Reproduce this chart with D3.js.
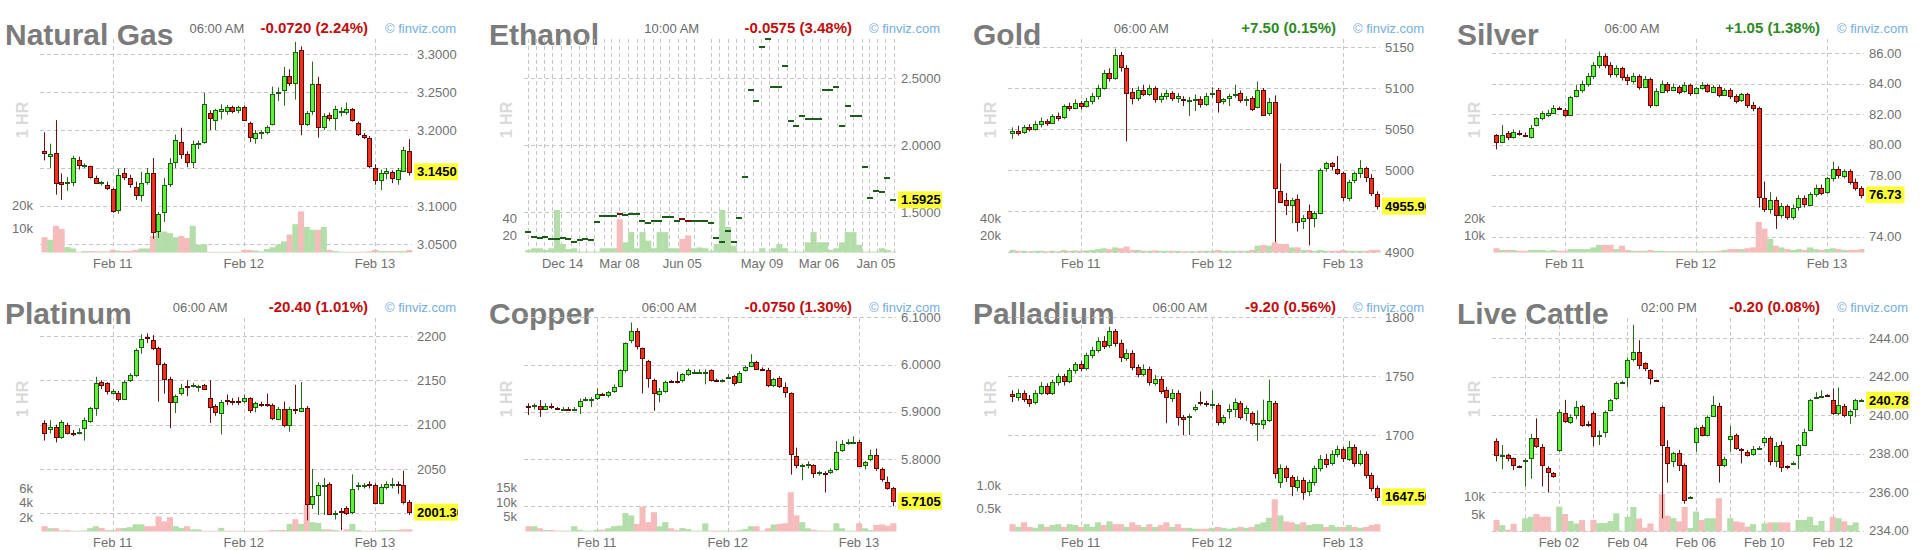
<!DOCTYPE html>
<html>
<head>
<meta charset="utf-8">
<script src="https://cdn.jsdelivr.net/npm/d3@7"></script>
<style>
  body { margin: 0; background: #fff; }
  svg text { font-family: "Liberation Sans", Arial, Helvetica, sans-serif; }
</style>
</head>
<body>
<svg id="chart" width="1920" height="550"></svg>
<script>
// bars are [open, high, low, close, volume]
var natGasBars = [
  [3.172,3.197,3.160,3.170,6.5],[3.167,3.182,3.150,3.169,5.4],[3.170,3.213,3.115,3.130,11.3],[3.131,3.143,3.108,3.129,10],
  [3.130,3.138,3.120,3.131,2.3],[3.131,3.166,3.126,3.163,1.7],[3.160,3.165,3.148,3.154,0.3],[3.153,3.156,3.150,3.154,0.6],
  [3.152,3.153,3.136,3.138,0.6],[3.137,3.140,3.129,3.131,0.5],[3.130,3.133,3.127,3.131,0.5],[3.128,3.132,3.121,3.124,0.5],
  [3.122,3.124,3.091,3.093,1.1],[3.095,3.149,3.090,3.141,0.8],[3.143,3.150,3.134,3.138,0.7],[3.137,3.141,3.124,3.129,0.7],
  [3.125,3.132,3.108,3.114,1.1],[3.114,3.145,3.106,3.130,1.7],[3.131,3.150,3.128,3.143,1.7],[3.143,3.163,3.057,3.066,7],
  [3.066,3.092,3.058,3.089,8.9],[3.092,3.137,3.079,3.128,8.9],[3.130,3.163,3.125,3.157,8.2],[3.158,3.194,3.150,3.187,6.5],
  [3.184,3.203,3.162,3.168,7],[3.168,3.172,3.151,3.158,6.1],[3.158,3.186,3.150,3.182,11.3],[3.182,3.186,3.175,3.183,3.3],
  [3.184,3.249,3.182,3.234,3.5],[3.222,3.226,3.200,3.216,0.3],[3.213,3.228,3.200,3.226,0.3],[3.225,3.234,3.214,3.227,0.3],
  [3.225,3.233,3.220,3.230,0.3],[3.230,3.232,3.222,3.225,0.3],[3.226,3.232,3.222,3.230,0.3],[3.230,3.232,3.212,3.213,1.1],
  [3.209,3.211,3.184,3.190,1.1],[3.190,3.200,3.182,3.196,0.8],[3.196,3.200,3.188,3.197,0.5],[3.198,3.206,3.194,3.204,1.5],
  [3.208,3.257,3.206,3.247,2.2],[3.249,3.256,3.238,3.250,3.3],[3.253,3.283,3.232,3.271,4.7],[3.271,3.280,3.258,3.262,7.6],
  [3.262,3.316,3.240,3.303,12],[3.305,3.310,3.193,3.208,17.4],[3.208,3.225,3.205,3.222,10.8],[3.225,3.290,3.220,3.260,9.6],
  [3.260,3.270,3.190,3.204,9.6],[3.204,3.222,3.200,3.218,10.8],[3.220,3.223,3.212,3.216,1.1],[3.216,3.232,3.200,3.228,0.6],
  [3.224,3.230,3.218,3.225,0.3],[3.224,3.236,3.220,3.228,0.3],[3.227,3.229,3.211,3.213,0.3],[3.209,3.211,3.192,3.195,0.3],
  [3.193,3.196,3.188,3.190,0.3],[3.190,3.192,3.150,3.153,0.5],[3.150,3.155,3.128,3.134,1.1],[3.134,3.148,3.121,3.143,0.6],
  [3.144,3.150,3.135,3.146,0.6],[3.145,3.147,3.130,3.137,0.6],[3.135,3.150,3.128,3.147,0.6],[3.147,3.178,3.145,3.174,0.6],
  [3.173,3.188,3.140,3.145,1.1]
];

var ethanolPrice = [
  1.355,1.318,1.31,1.318,1.30,1.30,1.31,1.30,1.28,1.29,1.30,1.29,1.43,1.475,1.475,1.475,1.49,1.478,1.49,1.49,
  1.437,1.418,1.437,1.437,1.467,1.467,1.437,1.447,1.437,1.437,1.437,1.437,1.418,1.31,1.28,1.363,1.28,1.455,1.766,2.413,
  2.33,2.73,2.79,2.433,2.433,2.594,2.18,2.146,2.22,2.194,2.194,2.194,2.413,2.413,2.433,2.146,2.296,2.22,2.22,1.84,
  1.604,1.661,1.649,1.754,1.5925
];
var ethanolVolume = [
  3,5,5,3,5,50,10,4,5,1,1,1,1,5,5,5,39,12,24,5,
  24,14,5,24,24,5,5,16,20,5,6,5,2,10,50,30,8,1,1,1,
  1,5,1,5,10,5,1,1,1,12,24,12,12,3,5,12,24,24,9,1,
  1,1,5,3,1
];
var ethanolDown = [16, 27, 28];

var goldBars = [
  [5045,5052,5038,5048,3],[5048,5054,5042,5046,2],[5046,5055,5044,5052,2],[5052,5056,5047,5050,1.5],
  [5050,5060,5048,5056,2],[5056,5064,5052,5060,2],[5060,5062,5054,5058,1.5],[5058,5068,5056,5066,2],
  [5066,5070,5060,5064,1.5],[5064,5080,5062,5078,3],[5078,5082,5072,5076,2],[5076,5086,5074,5082,2.5],
  [5082,5084,5074,5078,2],[5078,5088,5076,5084,2.5],[5084,5094,5080,5090,3],[5090,5104,5086,5100,4],
  [5100,5122,5098,5118,5],[5118,5124,5108,5112,4],[5112,5148,5110,5140,6],[5140,5144,5120,5125,5],
  [5125,5128,5035,5095,7],[5095,5100,5080,5088,3],[5088,5102,5084,5098,3],[5098,5104,5090,5093,2],
  [5093,5104,5090,5100,2],[5100,5102,5082,5086,2.5],[5086,5094,5082,5090,2],[5090,5098,5086,5094,2],
  [5094,5096,5084,5088,2],[5088,5094,5082,5090,2],[5086,5090,5078,5085,1.5],[5084,5089,5066,5085,1.5],
  [5085,5092,5072,5086,1.5],[5086,5090,5076,5080,2],[5080,5094,5078,5090,2],[5093,5101,5088,5094,2],
  [5098,5100,5070,5083,3],[5083,5088,5080,5086,2],[5088,5093,5078,5090,2],[5092,5104,5088,5093,2],
  [5094,5097,5082,5085,2],[5085,5090,5078,5086,2],[5088,5090,5072,5075,3],[5077,5108,5075,5098,8],
  [5098,5100,5066,5068,9],[5069,5088,5066,5083,8],[5083,5091,4912,4978,12],[4974,5008,4960,4961,10],
  [4963,4972,4945,4957,10],[4957,4966,4935,4963,6],[4965,4970,4925,4937,6],[4937,4945,4928,4941,3],
  [4950,4958,4908,4941,3],[4941,4950,4930,4947,2],[4948,5002,4946,5000,3],[5002,5010,4998,5008,2],
  [5008,5010,5000,5004,2],[5001,5017,4994,4996,2],[4996,4998,4962,4967,3],[4965,4988,4962,4985,2],
  [4988,4998,4984,4996,2],[4996,5012,4990,5002,2],[5002,5004,4985,4991,2],[4990,4995,4968,4972,3],
  [4971,4974,4952,4955.9,3]
];

var silverBars = [
  [80.64,80.70,79.70,80.18,2.5],[80.18,81.30,80.10,80.64,1.5],[80.77,80.90,80.30,80.51,1.5],[80.51,81.00,80.40,80.84,1.5],
  [80.80,80.95,80.60,80.74,1],[80.65,80.80,80.50,80.60,1],[80.50,81.30,80.40,81.10,1.5],[81.30,81.80,81.20,81.75,1.5],
  [81.75,82.20,81.60,82.08,1.5],[81.90,82.30,81.80,82.05,1],[82.08,82.60,82.00,82.40,1.5],[82.42,82.50,82.30,82.38,1],
  [82.27,82.40,81.80,81.95,1],[81.95,83.20,81.90,83.10,2],[83.20,83.90,83.10,83.60,2],[83.60,84.20,83.40,84.00,2],
  [84.00,84.70,83.80,84.50,2],[84.50,85.40,84.30,85.20,3],[85.20,86.10,85.00,85.80,4.5],[85.80,85.95,85.00,85.20,4.5],
  [85.20,85.40,84.40,84.60,4.5],[84.60,85.20,84.40,85.00,2],[85.00,85.10,84.20,84.40,4],[84.40,84.60,83.90,84.20,1.5],
  [84.20,84.70,84.00,84.50,1],[84.50,84.60,83.60,83.80,1],[83.80,84.50,83.70,84.30,1],[84.30,84.40,82.40,82.60,1.5],
  [82.60,83.70,82.50,83.50,1],[83.50,84.20,83.40,84.00,1],[84.00,84.10,83.40,83.60,0.8],[83.60,84.00,83.50,83.80,0.8],
  [83.80,83.90,83.30,83.50,0.8],[83.50,84.10,83.40,83.90,0.8],[83.90,84.00,83.20,83.40,0.8],[83.40,83.80,83.30,83.70,0.8],
  [83.70,84.10,83.60,83.90,0.8],[83.90,84.00,83.40,83.50,0.8],[83.50,83.90,83.40,83.80,0.8],[83.80,83.90,83.10,83.30,1],
  [83.30,83.70,83.20,83.60,1.5],[83.60,83.70,83.00,83.20,2],[83.20,83.30,82.70,82.90,2],[82.90,83.40,82.80,83.30,2],
  [83.30,83.40,82.40,82.60,2.5],[82.60,82.80,82.20,82.40,3],[82.40,82.50,75.90,76.60,18],[76.50,77.60,75.60,75.80,14],
  [75.80,76.90,75.50,76.40,8],[76.40,76.60,74.50,75.40,4],[75.40,76.20,75.20,76.00,3],[76.00,76.10,75.10,75.30,2],
  [75.30,76.10,75.10,75.90,1.5],[75.90,76.70,75.70,76.50,2],[76.50,76.70,75.90,76.10,1.5],[76.10,76.90,76.00,76.80,3],
  [76.80,77.40,76.60,77.20,2],[77.20,77.40,76.70,76.90,1.5],[76.90,77.90,76.80,77.80,2],[77.80,78.90,77.60,78.40,2.5],
  [78.40,78.60,77.80,78.00,2],[78.00,78.40,77.80,78.30,1.5],[78.30,78.40,77.40,77.60,1.5],[77.60,77.80,77.00,77.20,1.5],
  [77.20,77.30,76.50,76.73,2]
];

var platinumBars = [
  [2102.4,2105,2082,2091,0.74],[2095,2105,2090,2097.5,0.46],[2097.5,2100,2080,2086,0.46],[2086,2105,2084,2103,0.14],
  [2100,2102,2089,2091,0.2],[2091,2094,2087,2090,0.1],[2091,2096,2089,2092,0.1],[2095.6,2108,2082,2105,0.14],
  [2104,2120,2102,2119,0.46],[2119,2154,2110,2147,0.74],[2148,2150,2140,2145,0.5],[2146.5,2148,2134,2137,0.2],
  [2136,2140,2134,2138,0.2],[2136,2138,2126,2129.5,0.46],[2129.5,2150,2128,2148.4,0.5],[2150,2158,2148,2156,0.6],
  [2156,2186,2154,2184,1.0],[2188,2202,2180,2196.6,1.0],[2198.5,2203,2192,2197.5,0.74],[2195.5,2201,2184,2187,0.74],
  [2186,2188,2126,2168,2.1],[2168,2170,2135,2151,1.4],[2152,2154,2096,2126,2.0],[2126,2134,2113,2132.5,0.74],
  [2135,2146,2133,2141,0.5],[2143.5,2150,2132,2142.5,0.74],[2144,2147,2142,2145,0.3],[2142.5,2145,2137,2143.5,0.3],
  [2145,2146,2139,2140.7,0.1],[2129.5,2150,2102,2119,0.1],[2121,2123,2110,2113.7,0.1],[2113.7,2128,2089,2126,0.5],
  [2128,2134,2122,2127,0.1],[2126.5,2130,2122,2125.5,0.1],[2126.5,2131,2122,2125.5,0.1],[2126.5,2134,2124,2129.5,0.1],
  [2129.5,2131,2113,2116,0.1],[2120,2126,2114,2124,0.1],[2123.5,2126,2120,2122.5,0.1],[2123.5,2135,2120,2122.5,0.1],
  [2122,2124,2105,2107,0.2],[2107,2120,2105,2118,0.2],[2117.4,2126,2097,2099,0.2],[2099,2120,2092,2117.4,1.06],
  [2118,2145,2112,2117.4,1.7],[2116,2148,2114,2119,1.06],[2119,2121,1992,2011,3.8],[2011,2050,2005,2019.5,1.3],
  [2020,2035,1998,2031.5,1.2],[2031,2040,1998,2032,0.3],[2033,2035,1998,1999.5,0.3],[1999,2003,1993,2000,0.2],
  [2003,2006,1981,2002.5,0.1],[2006,2008,1998,2000,0.3],[2001,2044,1999,2027,1.06],[2031,2035,2026,2032,0.2],
  [2031.5,2034,2028,2032,0.1],[2032.5,2036,2028,2032,0.1],[2032,2034,2010,2012,0.1],[2012,2033,2010,2030,0.2],
  [2030,2036,2027,2033,0.2],[2032,2040,2028,2032.5,0.2],[2032.5,2036,2022,2032,0.2],[2032,2048,2010,2013,0.3],
  [2013,2015,1998,2001.3,0.3]
];

var copperBars = [
  [5.912,5.918,5.893,5.910,1.8],[5.912,5.918,5.905,5.914,1.8],[5.913,5.925,5.889,5.907,1.1],[5.907,5.918,5.905,5.913,0.5],
  [5.912,5.918,5.906,5.910,0.5],[5.908,5.910,5.905,5.907,0.3],[5.906,5.910,5.903,5.906,0.3],[5.905,5.910,5.902,5.904,0.3],
  [5.904,5.910,5.902,5.906,1.8],[5.913,5.928,5.895,5.923,0.6],[5.927,5.931,5.922,5.928,0.3],[5.927,5.931,5.910,5.928,0.3],
  [5.928,5.950,5.925,5.937,0.6],[5.938,5.940,5.934,5.936,0.6],[5.935,5.944,5.930,5.941,1.1],[5.944,5.958,5.940,5.953,1.8],
  [5.955,5.990,5.952,5.988,2.0],[5.988,6.047,5.983,6.045,6.3],[6.052,6.089,6.045,6.070,5.5],[6.070,6.077,6.032,6.038,2.6],
  [6.034,6.036,5.939,6.012,8.5],[6.008,6.010,5.951,5.972,3.2],[5.967,5.970,5.902,5.939,6.6],[5.937,5.950,5.920,5.944,1.8],
  [5.946,5.966,5.940,5.964,3.2],[5.965,5.967,5.962,5.964,1.1],[5.965,5.985,5.960,5.964,0.5],[5.967,5.982,5.962,5.979,1.2],
  [5.979,5.992,5.976,5.988,0.8],[5.984,5.990,5.980,5.985,0.3],[5.984,5.990,5.980,5.985,0.3],[5.984,5.990,5.958,5.985,2.8],
  [5.988,5.990,5.964,5.967,0.3],[5.968,5.970,5.964,5.967,0.3],[5.966,5.969,5.962,5.967,0.3],[5.973,5.980,5.970,5.974,0.3],
  [5.976,5.978,5.955,5.962,0.3],[5.964,5.986,5.962,5.983,0.5],[5.988,5.998,5.985,5.995,0.8],[5.998,6.022,5.995,6.006,1.8],
  [6.006,6.008,5.990,5.992,1.8],[5.990,5.994,5.986,5.988,0.3],[5.988,5.993,5.952,5.957,1.1],[5.957,5.972,5.952,5.969,2.4],
  [5.971,5.975,5.950,5.955,2.6],[5.953,5.962,5.930,5.943,2.8],[5.939,5.941,5.767,5.810,13.4],[5.807,5.824,5.780,5.787,5.5],
  [5.786,5.790,5.755,5.787,3.2],[5.788,5.795,5.780,5.789,1.1],[5.787,5.789,5.760,5.770,0.6],[5.771,5.775,5.765,5.772,0.3],
  [5.771,5.774,5.729,5.770,0.3],[5.772,5.780,5.768,5.777,0.3],[5.777,5.838,5.775,5.814,2.8],[5.819,5.840,5.815,5.831,1.1],
  [5.836,5.842,5.830,5.837,0.3],[5.836,5.848,5.832,5.837,0.3],[5.837,5.840,5.785,5.787,2.8],[5.787,5.796,5.778,5.793,1.1],
  [5.800,5.820,5.795,5.808,0.5],[5.808,5.822,5.775,5.780,2.2],[5.779,5.782,5.752,5.758,2.4],[5.751,5.763,5.735,5.739,2.0],
  [5.739,5.741,5.700,5.7105,2.8]
];

var palladiumBars = [
  [1735,1738,1728,1733,0.16],[1733,1739,1729,1736,0.1],[1736,1738,1728,1731,0.2],[1731,1734,1724,1728,0.1],
  [1728,1738,1726,1736,0.08],[1736,1745,1734,1742,0.16],[1742,1744,1734,1736,0.1],[1736,1747,1734,1745,0.14],
  [1745,1752,1742,1750,0.16],[1750,1752,1742,1746,0.1],[1746,1757,1744,1755,0.16],[1755,1762,1752,1760,0.14],
  [1760,1763,1754,1757,0.1],[1757,1770,1755,1768,0.16],[1768,1775,1765,1772,0.1],[1772,1783,1770,1780,0.2],
  [1780,1784,1773,1776,0.14],[1776,1792,1774,1788,0.22],[1788,1790,1775,1778,0.16],[1778,1781,1762,1766,0.16],
  [1766,1773,1763,1770,0.1],[1770,1772,1755,1758,0.2],[1758,1760,1749,1752,0.14],[1752,1760,1750,1756,0.1],
  [1756,1758,1742,1745,0.16],[1745,1751,1742,1748,0.1],[1748,1750,1735,1738,0.14],[1738,1741,1710,1732,0.2],
  [1732,1739,1728,1736,0.1],[1736,1738,1708,1716,0.16],[1715,1717,1700,1713,0.08],[1715,1718,1700,1716,0.08],
  [1722,1726,1720,1724,0.06],[1728,1737,1725,1727,0.06],[1727.5,1729,1724,1726.5,0.06],[1725,1738,1722,1726,0.08],
  [1725.5,1727,1708,1711.3,0.1],[1711.3,1717,1709,1715.5,0.08],[1720,1726,1714,1722,0.06],[1722.6,1731,1715,1728.3,0.08],
  [1727.5,1729,1713,1715.5,0.1],[1718,1725,1712,1722.6,0.08],[1718.7,1720,1708,1710.2,0.1],[1709,1721,1695,1710,0.16],
  [1709.6,1730,1705,1713,0.2],[1713,1747,1711,1729,0.3],[1727.5,1729,1663,1668,0.7],[1660,1675,1655,1672,0.35],
  [1672,1674,1660,1664,0.22],[1664,1666,1648,1656,0.2],[1656,1665,1652,1662,0.16],[1662,1664,1645,1652,0.2],
  [1652,1662,1648,1660,0.14],[1660,1674,1657,1672,0.16],[1672,1683,1669,1680,0.16],[1680,1684,1672,1676,0.1],
  [1676,1687,1674,1684,0.14],[1684,1691,1681,1688,0.1],[1688,1690,1677,1680,0.1],[1680,1695,1678,1690,0.14],
  [1690,1692,1673,1676,0.1],[1676,1687,1674,1684,0.08],[1684,1686,1663,1666,0.1],[1666,1668,1652,1655,0.14],
  [1655,1657,1644,1647.5,0.16]
];

var cattleBars = [
  [238.66,238.80,237.60,237.93,3.3],[237.88,238.45,237.20,237.92,1.8],[237.92,238.00,237.60,237.76,0.5],[237.76,237.80,237.15,237.41,2.2],
  [237.36,237.40,237.25,237.33,0.2],[237.66,237.76,236.30,237.70,3.8],[237.76,239.03,236.70,238.80,4.2],[238.80,239.84,238.30,238.37,5.0],
  [238.37,238.50,236.30,237.41,4.2],[237.28,237.35,236.00,237.07,4.2],[236.98,237.05,236.75,236.80,0.2],[238.19,240.30,238.10,240.19,7.1],
  [240.10,240.80,239.60,239.67,5.0],[239.67,240.05,239.55,239.93,3.0],[240.01,240.75,239.80,240.45,2.3],[240.50,240.55,239.40,239.53,3.3],
  [239.56,239.70,239.40,239.53,0.2],[240.10,240.20,238.40,238.89,3.3],[238.95,239.20,238.45,238.97,2.4],[239.15,240.25,238.85,240.19,2.4],
  [240.27,240.85,240.20,240.79,3.0],[240.88,241.75,240.80,241.66,5.2],[241.72,241.80,241.70,241.75,0.2],[242.00,243.00,241.45,242.87,4.2],
  [242.96,244.70,242.80,243.31,7.0],[243.31,243.90,242.40,242.61,3.7],[242.70,242.75,242.30,242.44,1.1],[242.35,242.40,241.60,241.92,2.3],
  [241.82,241.85,241.75,241.80,0.2],[240.45,240.50,234.64,238.45,10.7],[238.33,238.70,236.50,237.50,4.5],[237.59,238.10,237.30,238.02,3.8],
  [238.02,238.20,237.10,237.41,2.9],[237.41,237.50,235.40,235.60,7.0],[235.70,235.80,235.65,235.74,1.0],[238.59,239.40,238.10,239.32,5.7],
  [239.40,239.50,238.90,239.00,3.3],[238.97,240.00,238.90,239.93,3.8],[239.98,241.00,239.90,240.53,3.8],[240.50,240.65,236.50,237.41,9.5],
  [237.41,237.85,237.30,237.73,0.1],[238.76,239.45,238.10,238.94,3.8],[238.97,239.05,238.20,238.28,2.9],[238.27,238.30,237.50,238.25,2.6],
  [238.11,238.20,237.85,237.93,1.4],[237.97,238.40,237.90,238.25,2.1],[238.30,238.40,238.28,238.32,0.2],[238.59,238.90,238.40,238.80,2.3],
  [238.83,238.90,237.40,237.62,2.6],[237.62,238.60,237.30,238.42,2.6],[238.45,238.65,237.05,237.33,2.6],[237.38,237.40,237.20,237.36,2.6],
  [237.48,237.60,237.40,237.50,0.2],[237.93,238.50,237.20,238.45,3.3],[238.45,239.30,238.40,239.15,3.3],[239.23,240.85,239.20,240.79,4.2],
  [240.95,241.20,240.90,240.97,1.8],[240.98,241.30,240.90,241.00,3.0],[241.06,241.10,240.98,241.05,0.2],[240.79,241.40,240.00,240.10,4.2],
  [240.10,241.45,240.00,240.53,3.8],[240.50,240.60,239.90,240.01,2.9],[240.01,240.30,239.55,240.22,1.8],[240.32,240.85,239.90,240.79,2.6],
  [240.76,240.85,240.70,240.78,0.0]
];

// axis ticks
var natGasTicks = [3.30, 3.25, 3.20, 3.15, 3.10, 3.05];
var ethanolTicks = [2.5, 2.0, 1.5];
var goldTicks = [5150, 5100, 5050, 5000, 4950, 4900];
var silverTicks = [86, 84, 82, 80, 78, 76, 74];
var platinumTicks = [2200, 2150, 2100, 2050, 2000];
var copperTicks = [6.1, 6.0, 5.9, 5.8, 5.7];
var palladiumTicks = [1800, 1750, 1700, 1650];
var cattleTicks = [244, 242, 240, 238, 236, 234];

var febGrid = [12, 35, 58];
var febLabels = [[12, "Feb 11"], [35, "Feb 12"], [58, "Feb 13"]];
var cattleGrid = [5, 11, 17, 23, 29, 35, 41, 47, 53, 59];
var cattleLabels = [[11, "Feb 02"], [23, "Feb 04"], [35, "Feb 06"], [47, "Feb 10"], [59, "Feb 12"]];
var ethanolGrid = [0, 1.4, 2.8, 4.2, 5.8, 7.4, 8.8, 10.1, 11.5, 13.3, 14.5, 15.9, 17.4, 19, 20.3, 21.8, 23.1, 24.7,
  26.2, 27.7, 29, 32.1, 33.5, 35, 36.5, 37.9, 39.4, 40.9, 42.3, 43.8, 45.3, 46.7, 48.2, 49.7, 51.1, 52.6, 54.1,
  55.5, 57, 58.5, 59.7, 61.1, 62.6, 64.1];
var ethanolLabels = [[6, "Dec 14"], [16, "Mar 08"], [27, "Jun 05"], [41, "May 09"], [51, "Mar 06"], [61, "Jan 05"]];

var ethanolBars = ethanolPrice.map(function(p, i){ return [p, p, p, p, ethanolVolume[i]]; });

var panels = [
  {title:"Natural Gas", time:"06:00 AM", change:"-0.0720 (2.24%)", up:false, bars:natGasBars, last:"3.1450",
   ticks:natGasTicks, dec:4, yDomain:[3.05, 3.30], yRange:[244, 54], volMax:90, volTicks:[[20,"20k"],[10,"10k"]],
   grid:febGrid, labels:febLabels},
  {title:"Ethanol", time:"10:00 AM", change:"-0.0575 (3.48%)", up:false, bars:ethanolBars, last:"1.5925", dash:true, down:ethanolDown,
   ticks:ethanolTicks, dec:4, yDomain:[1.5, 2.5], yRange:[212.3, 78.3], volMax:250, volTicks:[[40,"40"],[20,"20"]],
   grid:ethanolGrid, labels:ethanolLabels},
  {title:"Gold", time:"06:00 AM", change:"+7.50 (0.15%)", up:true, bars:goldBars, last:"4955.90",
   ticks:goldTicks, dec:0, yDomain:[4900, 5150], yRange:[252, 47], volMax:250, volTicks:[[40,"40k"],[20,"20k"]],
   grid:febGrid, labels:febLabels},
  {title:"Silver", time:"06:00 AM", change:"+1.05 (1.38%)", up:true, bars:silverBars, last:"76.73",
   ticks:silverTicks, dec:2, yDomain:[74, 86], yRange:[236.6, 53], volMax:125, volTicks:[[20,"20k"],[10,"10k"]],
   grid:febGrid, labels:febLabels},
  {title:"Platinum", time:"06:00 AM", change:"-20.40 (1.01%)", up:false, bars:platinumBars, last:"2001.30",
   ticks:platinumTicks, dec:0, yDomain:[2000, 2200], yRange:[234.3, 57], volMax:29.5, volTicks:[[6,"6k"],[4,"4k"],[2,"2k"]],
   grid:febGrid, labels:febLabels},
  {title:"Copper", time:"06:00 AM", change:"-0.0750 (1.30%)", up:false, bars:copperBars, last:"5.7105",
   ticks:copperTicks, dec:4, yDomain:[5.8, 6.1], yRange:[180, 38.3], volMax:72.5, volTicks:[[15,"15k"],[10,"10k"],[5,"5k"]],
   grid:febGrid, labels:febLabels},
  {title:"Palladium", time:"06:00 AM", change:"-9.20 (0.56%)", up:false, bars:palladiumBars, last:"1647.50",
   ticks:palladiumTicks, dec:0, yDomain:[1700, 1800], yRange:[156, 38.3], volMax:4.62, volTicks:[[1.0,"1.0k"],[0.5,"0.5k"]],
   grid:febGrid, labels:febLabels},
  {title:"Live Cattle", time:"02:00 PM", change:"-0.20 (0.08%)", up:false, bars:cattleBars, last:"240.78",
   ticks:cattleTicks, dec:2, yDomain:[234, 244], yRange:[251.7, 59.3], volMax:60.7, volTicks:[[10,"10k"],[5,"5k"]],
   grid:cattleGrid, labels:cattleLabels}
];

var svg = d3.select("#chart");
svg.append("defs").append("clipPath").attr("id", "panelClip")
  .append("rect").attr("x", 0).attr("y", 0).attr("width", 458).attr("height", 279);

var GRID = "#c6c6c6", LABEL = "#707070";

function drawPanel(p, k) {
  var col = k % 4, row = Math.floor(k / 4);
  var g = svg.append("g").attr("transform", "translate(" + (col * 484) + "," + (row * 279) + ")");
  var n = p.bars.length;
  var x = d3.scaleLinear().domain([-0.5, n - 0.5]).range([41.5, 412]);
  var y = d3.scaleLinear().domain(p.yDomain).range(p.yRange);
  var v = d3.scaleLinear().domain([0, p.volMax]).range([252.5, 40]);
  var step = x(1) - x(0);
  var fmt = d3.format("." + p.dec + "f");
  var isUp = function(d, i){ return p.down ? p.down.indexOf(i) < 0 : d[3] >= d[0]; };
  var ly = y(+p.last);

  // header
  var title = g.append("text").attr("x", 5).attr("y", 45).text(p.title)
    .attr("font-size", 30).attr("font-weight", "bold").attr("fill", "#7b7b7b");
  var change = g.append("text").attr("x", 368).attr("y", 33).attr("text-anchor", "end").text(p.change)
    .attr("font-size", 15).attr("font-weight", "bold").attr("fill", p.up ? "#2d8a1f" : "#c40c0c");
  var tEnd = 5 + title.node().getComputedTextLength();
  var cStart = 368 - change.node().getComputedTextLength();
  g.append("text").attr("x", (tEnd + cStart) / 2).attr("y", 33).attr("text-anchor", "middle").text(p.time)
    .attr("font-size", 13).attr("fill", "#6a6a6a");
  g.append("text").attr("x", 456).attr("y", 33).attr("text-anchor", "end").text("\u00a9 finviz.com")
    .attr("font-size", 13).attr("fill", "#72aee6");

  g.append("text").attr("transform", "translate(28,120) rotate(-90)").attr("text-anchor", "middle")
    .text("1 HR").attr("font-size", 16).attr("font-weight", "bold").attr("fill", "#dadada");

  // grid
  g.append("g").selectAll("line").data(p.ticks).join("line")
    .attr("x1", 40).attr("x2", 412)
    .attr("y1", function(d){ return Math.round(y(d)) + 0.5; })
    .attr("y2", function(d){ return Math.round(y(d)) + 0.5; })
    .attr("stroke", GRID).attr("stroke-dasharray", "4,3");
  g.append("g").selectAll("line").data(p.grid).join("line")
    .attr("x1", function(d){ return Math.round(x(d)) + 0.5; })
    .attr("x2", function(d){ return Math.round(x(d)) + 0.5; })
    .attr("y1", 39).attr("y2", 253)
    .attr("stroke", GRID).attr("stroke-dasharray", "4,3");

  // volume
  g.append("g").selectAll("rect").data(p.bars).join("rect")
    .attr("x", function(d, i){ return x(i) - step / 2; })
    .attr("width", step + 0.4)
    .attr("y", function(d){ return v(d[4]); })
    .attr("height", function(d){ return 252.5 - v(d[4]); })
    .attr("fill", function(d, i){ return isUp(d, i) ? "#b4dea9" : "#f6bcbc"; });

  // candles
  var cg = g.append("g");
  if (p.dash) {
    cg.selectAll("rect").data(p.bars).join("rect")
      .attr("x", function(d, i){ return Math.round(x(i)) - 3; })
      .attr("width", 6)
      .attr("y", function(d){ return Math.round(y(d[3])) - 1; })
      .attr("height", 2)
      .attr("fill", function(d, i){ return isUp(d, i) ? "#1d5c18" : "#7a1010"; });
  } else {
    cg.selectAll("line").data(p.bars).join("line")
      .attr("x1", function(d, i){ return Math.round(x(i)) + 0.5; })
      .attr("x2", function(d, i){ return Math.round(x(i)) + 0.5; })
      .attr("y1", function(d){ return y(d[1]); })
      .attr("y2", function(d){ return y(d[2]); })
      .attr("stroke", function(d, i){ return isUp(d, i) ? "#276e1b" : "#6e1010"; });
    cg.selectAll("rect").data(p.bars).join("rect")
      .attr("x", function(d, i){ return Math.round(x(i)) - 1.5; })
      .attr("width", 4)
      .attr("y", function(d){ return Math.round(Math.min(y(d[0]), y(d[3]))) + 0.5; })
      .attr("height", function(d){ return Math.max(1, Math.round(Math.abs(y(d[0]) - y(d[3])))); })
      .attr("fill", function(d, i){ return isUp(d, i) ? "#5ef03a" : "#f0301c"; })
      .attr("stroke", function(d, i){ return isUp(d, i) ? "#1d5a12" : "#5a0b08"; });
  }

  // axis labels (a tick label sitting under the last-price tag is covered by it, so it is left out)
  g.append("g").selectAll("text")
    .data(p.ticks.filter(function(d){ return Math.abs(y(d) - ly) >= 12; })).join("text")
    .attr("x", 417).attr("y", function(d){ return y(d); }).attr("dy", "0.35em")
    .text(function(d){ return fmt(d); })
    .attr("font-size", 13).attr("fill", LABEL);
  g.append("g").selectAll("text").data(p.volTicks).join("text")
    .attr("x", 33).attr("y", function(d){ return v(d[0]); }).attr("dy", "0.35em").attr("text-anchor", "end")
    .text(function(d){ return d[1]; })
    .attr("font-size", 13).attr("fill", LABEL);
  g.append("g").selectAll("text").data(p.labels).join("text")
    .attr("x", function(d){ return x(d[0]); }).attr("y", 268).attr("text-anchor", "middle")
    .text(function(d){ return d[1]; })
    .attr("font-size", 13).attr("fill", LABEL);

  // last price tag
  var hl = g.append("g").attr("clip-path", "url(#panelClip)");
  var rect = hl.append("rect").attr("x", 414).attr("y", ly - 8.5).attr("height", 17).attr("fill", "#ffff3a");
  var lt = hl.append("text").attr("x", 417).attr("y", ly).attr("dy", "0.35em").text(p.last)
    .attr("font-size", 13).attr("font-weight", "bold").attr("fill", "#000");
  rect.attr("width", lt.node().getComputedTextLength() + 6);
}

panels.forEach(drawPanel);
</script>
</body>
</html>
